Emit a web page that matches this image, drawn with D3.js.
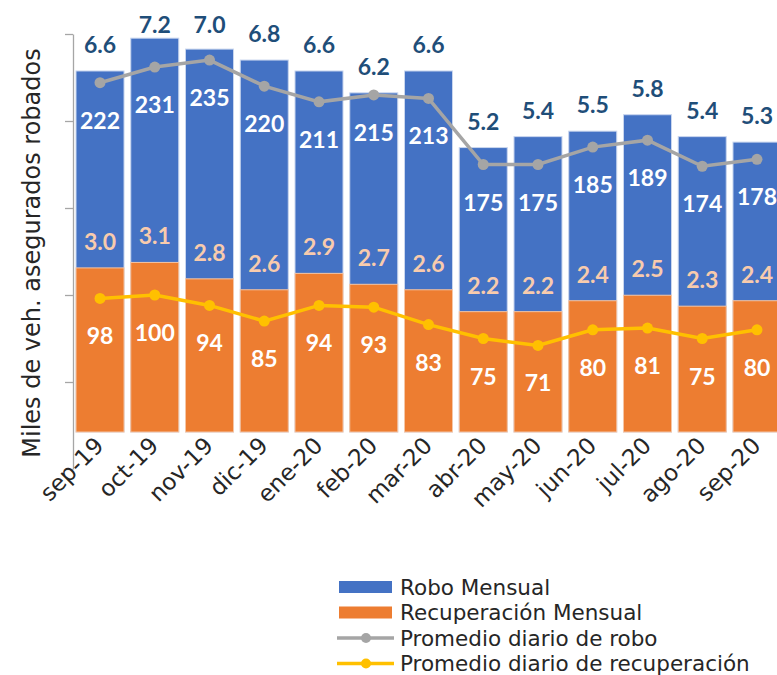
<!DOCTYPE html>
<html>
<head>
<meta charset="utf-8">
<script src="https://cdn.jsdelivr.net/npm/d3@7"></script>
<style>
  body { margin: 0; background: #fff; }
  svg { display: block; }
</style>
</head>
<body>
<svg id="chart" width="777" height="675"></svg>
<script>
// -------------------------------
// data
// -------------------------------
const months = ["sep-19", "oct-19", "nov-19", "dic-19", "ene-20", "feb-20", "mar-20",
  "abr-20", "may-20", "jun-20", "jul-20", "ago-20", "sep-20"];

// miles de vehiculos por mes
const roboMensual = [6.6, 7.2, 7.0, 6.8, 6.6, 6.2, 6.6, 5.2, 5.4, 5.5, 5.8, 5.4, 5.3];
const recupMensual = [3.0, 3.1, 2.8, 2.6, 2.9, 2.7, 2.6, 2.2, 2.2, 2.4, 2.5, 2.3, 2.4];

// promedio diario
const roboDiario = [222, 231, 235, 220, 211, 215, 213, 175, 175, 185, 189, 174, 178];
const recupDiario = [98, 100, 94, 85, 94, 93, 83, 75, 71, 80, 81, 75, 80];

const lineTicks = [0, 50, 100, 150, 200, 250];

const legendItems = [
  { label: "Robo Mensual", type: "rect", color: "#4472C4" },
  { label: "Recuperación Mensual", type: "rect", color: "#ED7D31" },
  { label: "Promedio diario de robo", type: "line", color: "#A5A5A5" },
  { label: "Promedio diario de recuperación", type: "line", color: "#FFC000" }
];

// -------------------------------
// scales
// -------------------------------
const svg = d3.select("#chart");
const numFont = "Lato, 'DejaVu Sans', sans-serif";
const txtFont = "'DejaVu Sans', sans-serif";

const x = d3.scaleBand()
  .domain(months)
  .range([73, 784])
  .paddingInner(0.123)
  .paddingOuter(0.055);

const yBar = d3.scaleLinear().domain([0, 8]).range([432, 432 - 8 * 54.7]);
const yLine = d3.scaleLinear().domain([0, 250]).range([469, 34]);

const cx = (d, i) => x(months[i]) + x.bandwidth() / 2;

// -------------------------------
// bars
// -------------------------------
svg.append("g")
  .selectAll("rect")
  .data(roboMensual)
  .join("rect")
  .attr("x", (d, i) => x(months[i]))
  .attr("y", d => yBar(d))
  .attr("width", x.bandwidth())
  .attr("height", d => yBar(0) - yBar(d))
  .attr("fill", "#4472C4")
  .attr("stroke", "#c9d6ee")
  .attr("stroke-width", 1);

svg.append("g")
  .selectAll("rect")
  .data(recupMensual)
  .join("rect")
  .attr("x", (d, i) => x(months[i]))
  .attr("y", d => yBar(d))
  .attr("width", x.bandwidth())
  .attr("height", d => yBar(0) - yBar(d))
  .attr("fill", "#ED7D31")
  .attr("stroke", "#f5c6a6")
  .attr("stroke-width", 1);

// -------------------------------
// left axis (scale of the lines, no labels)
// -------------------------------
const axis = svg.append("g")
  .attr("transform", "translate(73,0)")
  .call(d3.axisLeft(yLine).tickValues(lineTicks).tickFormat("").tickSize(8).tickSizeOuter(0));
axis.selectAll("path, line").attr("stroke", "#A6A6A6").attr("stroke-width", 1.3);

// y title
svg.append("text")
  .attr("transform", "translate(40,253)rotate(-90)")
  .attr("text-anchor", "middle")
  .style("font-family", txtFont)
  .style("font-size", "24px")
  .attr("fill", "#262626")
  .text("Miles de veh. asegurados robados");

// x labels
svg.append("g")
  .selectAll("text")
  .data(months)
  .join("text")
  .attr("transform", d => "translate(" + (x(d) + x.bandwidth() / 2 + 5) + ",447)rotate(-45)")
  .attr("text-anchor", "end")
  .style("font-family", txtFont)
  .style("font-size", "23px")
  .attr("fill", "#262626")
  .text(d => d);

// -------------------------------
// lines
// -------------------------------
function drawLine(values, color) {
  const line = d3.line()
    .x((d, i) => cx(d, i))
    .y(d => yLine(d));
  svg.append("path")
    .datum(values)
    .attr("d", line)
    .attr("fill", "none")
    .attr("stroke", color)
    .attr("stroke-width", 3.5);
  svg.append("g")
    .selectAll("circle")
    .data(values)
    .join("circle")
    .attr("cx", cx)
    .attr("cy", d => yLine(d))
    .attr("r", 5.5)
    .attr("fill", color);
}
drawLine(roboDiario, "#A5A5A5");
drawLine(recupDiario, "#FFC000");

// -------------------------------
// data labels
// -------------------------------
function labels(values, yFn, color, fmt) {
  svg.append("g")
    .selectAll("text")
    .data(values)
    .join("text")
    .attr("x", cx)
    .attr("y", yFn)
    .attr("text-anchor", "middle")
    .style("font-family", numFont)
    .style("font-size", "23px")
    .style("font-weight", "bold")
    .attr("fill", color)
    .text(fmt);
}
// top labels are kept inside the plot area, like excel does
labels(roboMensual, d => Math.max(yBar(d) - 18, 33), "#1F4E79", d3.format(".1f"));
labels(recupMensual, d => yBar(d) - 18, "#F8CBAD", d3.format(".1f"));
labels(roboDiario, d => yLine(d) + 46, "#ffffff", d => d);
labels(recupDiario, d => yLine(d) + 46, "#ffffff", d => d);

// -------------------------------
// legend
// -------------------------------
const legend = svg.append("g").attr("transform", "translate(337,587)");
legendItems.forEach((item, i) => {
  const g = legend.append("g").attr("transform", "translate(0," + (i * 25.5) + ")");
  if (item.type === "rect") {
    g.append("rect").attr("x", 2).attr("y", -6).attr("width", 53).attr("height", 12).attr("fill", item.color);
  } else {
    g.append("line").attr("x1", 0).attr("x2", 57).attr("y1", 0).attr("y2", 0)
      .attr("stroke", item.color).attr("stroke-width", 3.5);
    g.append("circle").attr("cx", 29).attr("cy", 0).attr("r", 5).attr("fill", item.color);
  }
  g.append("text")
    .attr("x", 63)
    .attr("y", 7.5)
    .style("font-family", txtFont)
    .style("font-size", "21.5px")
    .attr("fill", "#262626")
    .text(item.label);
});
</script>
</body>
</html>
